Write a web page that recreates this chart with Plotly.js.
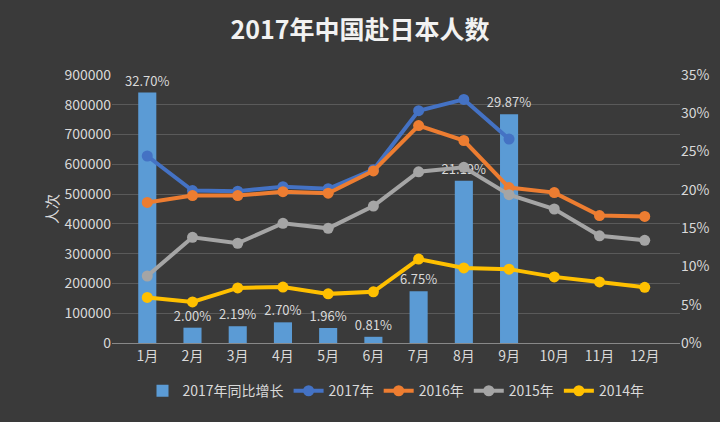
<!DOCTYPE html>
<html><head><meta charset="utf-8">
<script src="https://cdn.plot.ly/plotly-3.0.1.min.js"></script>
<style>body{margin:0;background:#3a3a3a}</style></head>
<body><div id="c" style="width:720px;height:422px"></div>
<script>
const months=['1月','2月','3月','4月','5月','6月','7月','8月','9月','10月','11月','12月'];
const growth=[32.70,2.00,2.19,2.70,1.96,0.81,6.75,21.19,29.87];
const growthLabels=['32.70%','2.00%','2.19%','2.70%','1.96%','0.81%','6.75%','21.19%','29.87%'];
const y2017=[628000,512000,510000,525000,518000,582000,780000,818000,685000];
const y2016=[472000,495000,495000,508000,503000,578000,730000,680000,522000,505000,428000,425000];
const y2015=[225000,355000,335000,402000,385000,460000,575000,590000,498000,450000,360000,345000];
const y2014=[153000,138000,185000,188000,165000,172000,282000,252000,248000,222000,205000,187000];
const ln=(n,y,c)=>({type:'scatter',mode:'lines+markers',name:n,x:months.slice(0,y.length),y:y,yaxis:'y2',line:{color:c,width:4},marker:{color:c,size:11}});
const data=[
{type:'bar',name:'2017年同比增长',x:months.slice(0,growth.length),y:growth,marker:{color:'#5b9bd5'},width:0.4,text:growthLabels,textposition:'outside',constraintext:'none',textfont:{color:'#d9d9d9',size:13},cliponaxis:false},
ln('2017年',y2017,'#4472c4'),ln('2016年',y2016,'#ed7d31'),ln('2015年',y2015,'#a5a5a5'),ln('2014年',y2014,'#ffc000')];
const layout={paper_bgcolor:'#3a3a3a',plot_bgcolor:'rgba(0,0,0,0)',margin:{l:112,r:40,t:75,b:79},
font:{family:'Noto Sans CJK SC, sans-serif',color:'#d9d9d9',size:14},
title:{text:'<b>2017年中国赴日本人数</b>',x:0.5,y:0.95,font:{size:25,color:'#f2f2f2'}},
xaxis:{showgrid:false,showline:true,linecolor:'#888',tickfont:{size:14}},
yaxis:{side:'right',range:[0,35],dtick:5,ticksuffix:'%',showgrid:false,zeroline:false,tickfont:{size:14}},
yaxis2:{overlaying:'y',side:'left',range:[0,900000],dtick:100000,gridcolor:'#5a5a5a',showgrid:true,zeroline:false,tickformat:'d',title:{text:'人次',font:{size:15}},tickfont:{size:14}},
legend:{orientation:'h',x:0.5,xanchor:'center',y:-0.12,font:{size:14}},showlegend:true};
Plotly.newPlot('c',data,layout,{displayModeBar:false});
</script></body></html>
